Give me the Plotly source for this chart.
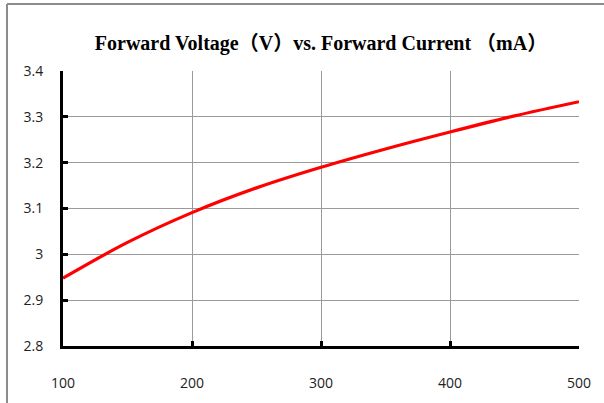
import plotly.graph_objects as go

current_ma = [100, 150, 200, 250, 300, 350, 400, 450, 500]
voltage_v = [2.948, 3.026, 3.091, 3.145, 3.19, 3.23, 3.267, 3.302, 3.333]

x_ticks = [100, 200, 300, 400, 500]
x_tick_labels = ["100", "200", "300", "400", "500"]
y_ticks = [2.8, 2.9, 3.0, 3.1, 3.2, 3.3, 3.4]
y_tick_labels = ["2.8", "2.9", "3", "3.1", "3.2", "3.3", "3.4"]

title_text = "Forward Voltage（V）vs. Forward Current （mA）"

fig = go.Figure()
fig.add_trace(go.Scatter(
    x=current_ma, y=voltage_v, mode="lines",
    line=dict(color="#ff0000", width=3.2, shape="spline", smoothing=1.0),
    showlegend=False, hoverinfo="skip",
))

W, H = 604, 403
L, R, T, B = 63, 25, 71, 57

tick_font = dict(family="Open Sans, Liberation Sans, sans-serif", size=14, color="#222222")

fig.update_layout(
    width=W, height=H,
    margin=dict(l=0, r=0, t=0, b=0, pad=0, autoexpand=False),
    paper_bgcolor="white", plot_bgcolor="white",
    title=dict(
        text="<b>" + title_text + "</b>",
        x=(L + (W - L - R) / 2) / W, xanchor="center", xref="paper",
        y=1 - 43 / H, yanchor="middle", yref="paper",
        font=dict(family="Liberation Serif, Noto Sans CJK SC, serif", size=20, color="#000000"),
    ),
    xaxis=dict(
        domain=[L / W, (W - R) / W],
        range=[100, 500], tickvals=x_ticks, ticktext=x_tick_labels,
        showgrid=True, gridcolor="#9a9a9a", gridwidth=1,
        showline=True, linecolor="#000000", linewidth=3,
        ticks="inside", ticklen=5, tickwidth=3, tickcolor="#000000",
        ticklabelstandoff=22,
        tickfont=tick_font,
        zeroline=False,
    ),
    yaxis=dict(
        domain=[B / H, (H - T) / H],
        range=[2.8, 3.4], tickvals=y_ticks, ticktext=y_tick_labels,
        showgrid=True, gridcolor="#9a9a9a", gridwidth=1,
        showline=True, linecolor="#000000", linewidth=3,
        ticks="inside", ticklen=5, tickwidth=3, tickcolor="#000000",
        ticklabelstandoff=14,
        tickfont=tick_font,
        zeroline=False,
    ),
    shapes=[
        dict(type="line", xref="paper", yref="paper",
             x0=7 / W, x1=7 / W, y0=(H - 4) / H, y1=0,
             line=dict(color="#8c8c8c", width=2)),
        dict(type="line", xref="paper", yref="paper",
             x0=7 / W, x1=1, y0=(H - 4) / H, y1=(H - 4) / H,
             line=dict(color="#8c8c8c", width=2)),
    ],
)

fig.write_html("out.html", config={"displayModeBar": False},
               post_script="document.body.style.margin='0';document.body.style.overflow='hidden';")
